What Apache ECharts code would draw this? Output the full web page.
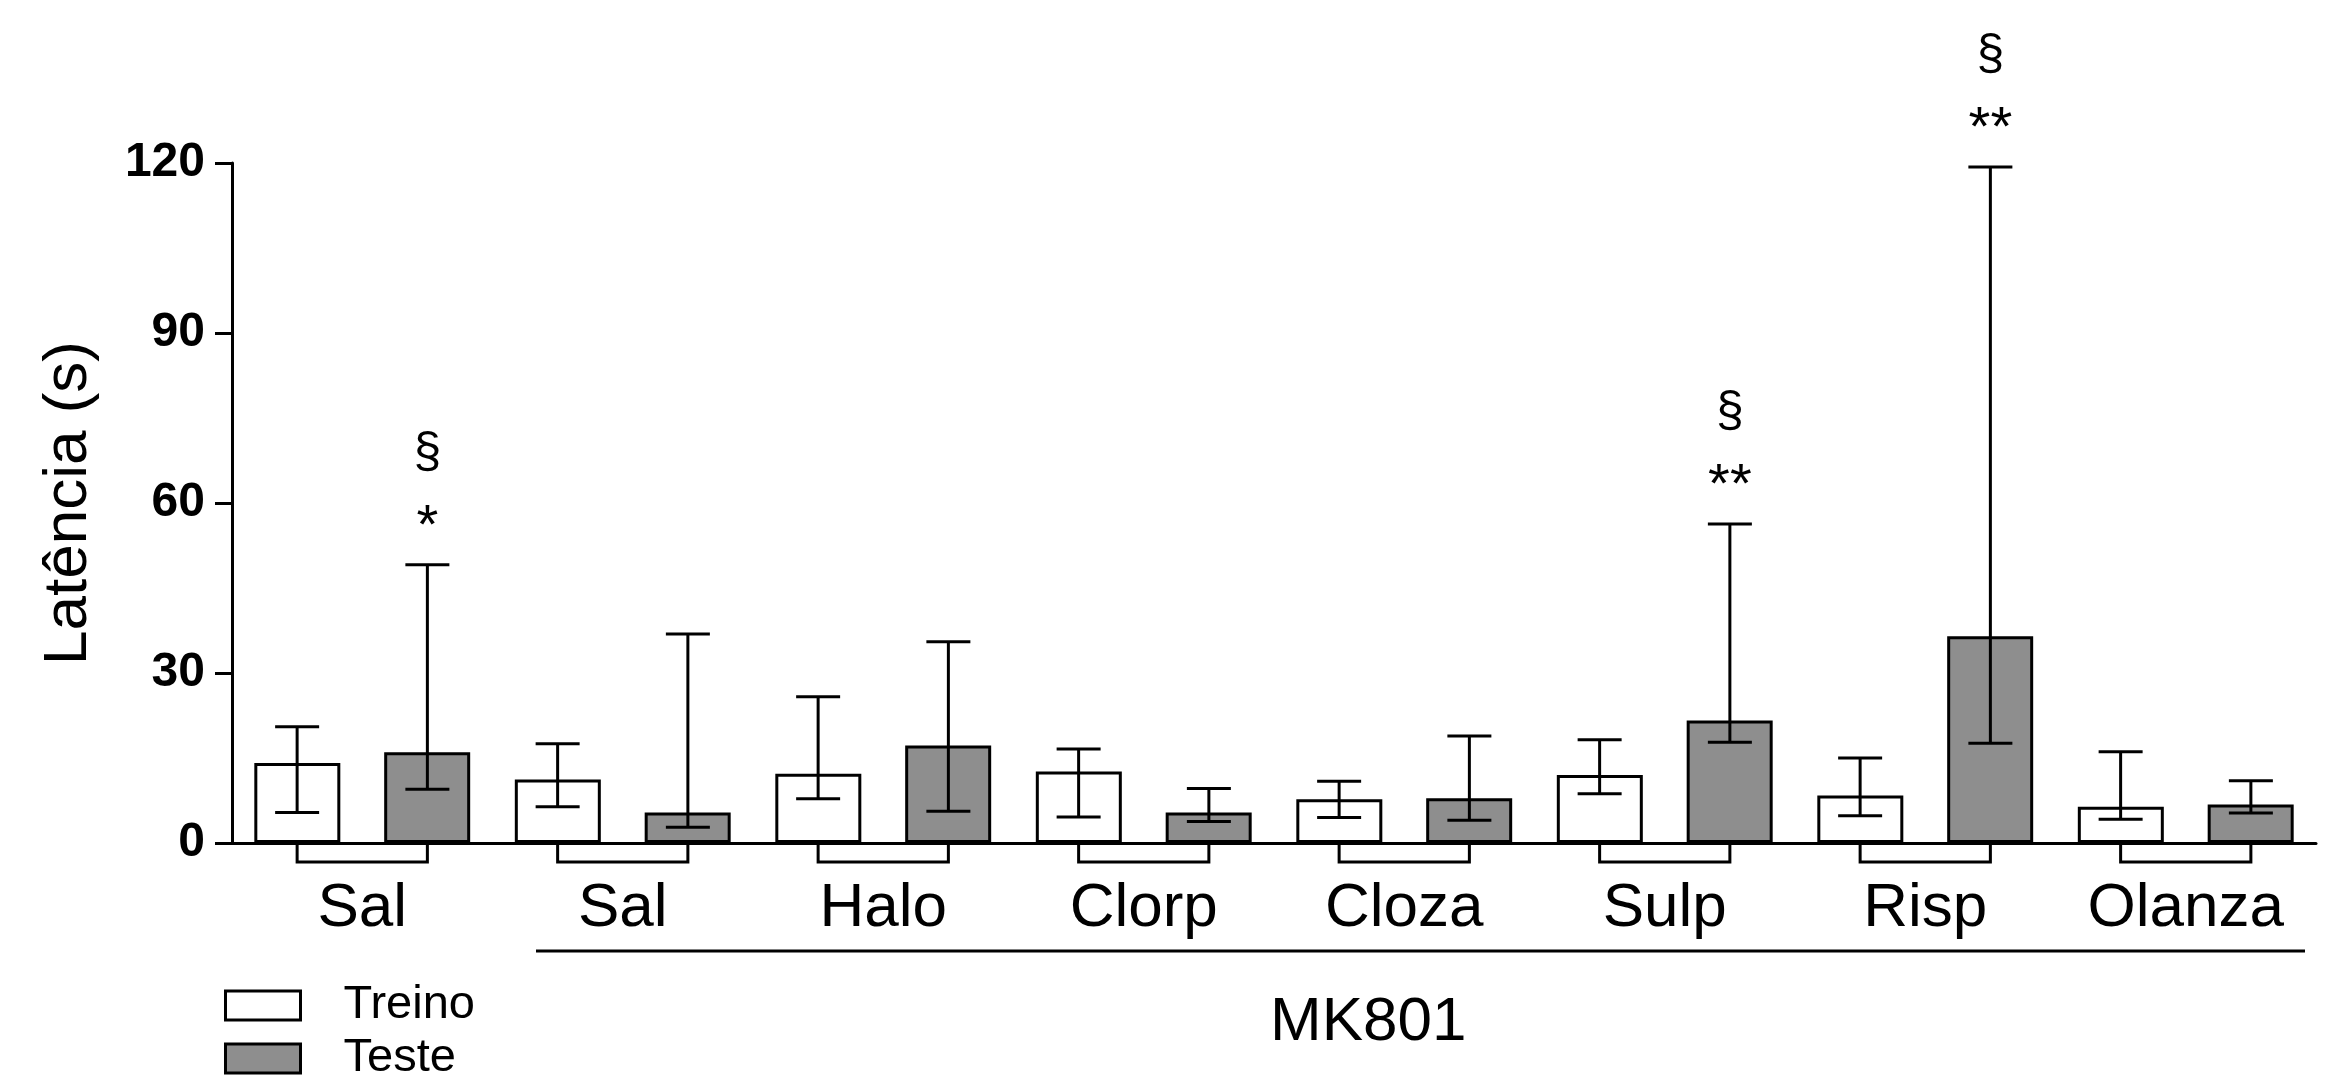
<!DOCTYPE html>
<html>
<head>
<meta charset="utf-8">
<script src="https://cdn.jsdelivr.net/npm/echarts@6/dist/echarts.min.js"></script>
<style>
html,body{margin:0;padding:0;background:#fff;}
#main{width:2351px;height:1084px;}
</style>
</head>
<body>
<div id="main"></div>
<script>
// grupos
var categories = ['Sal', 'Sal', 'Halo', 'Clorp', 'Cloza', 'Sulp', 'Risp', 'Olanza'];
// Treino: barra + limites da barra de erro
var treino     = [14.1, 11.2, 12.2, 12.6, 7.7, 12.0, 8.4, 6.4];
var treinoLow  = [5.4, 6.4, 7.8, 4.6, 4.5, 8.7, 4.8, 4.2];
var treinoHigh = [20.5, 17.5, 25.8, 16.6, 10.9, 18.2, 15.0, 16.1];
// Teste
var teste      = [16.0, 5.4, 17.2, 5.4, 7.9, 21.6, 36.5, 6.8];
var testeLow   = [9.5, 2.8, 5.6, 3.8, 4.0, 17.8, 17.6, 5.3];
var testeHigh  = [49.1, 36.9, 35.5, 9.6, 18.9, 56.3, 119.3, 11.0];
// marcas de significancia sobre Teste
var stars    = ['*', '', '', '', '', '**', '**', ''];
var sections = ['\u00a7', '', '', '', '', '\u00a7', '\u00a7', ''];
var yTicks = [0, 30, 60, 90, 120];

var FONT = '"Liberation Sans", Arial, sans-serif';

var errData = [];
for (var i = 0; i < categories.length; i++) {
	errData.push([i, treinoLow[i], treinoHigh[i], -1, '', '']);
	errData.push([i, testeLow[i], testeHigh[i], 1, stars[i], sections[i]]);
}
var groupIdx = categories.map(function (c, i) { return i; });

function renderErr(params, api) {
	var idx = api.value(0);
	var side = api.value(3);
	var band = api.size([1, 0])[0];
	var x = api.coord([idx, 0])[0] + side * band / 4;
	var yLow = api.coord([idx, api.value(1)])[1];
	var yHigh = api.coord([idx, api.value(2)])[1];
	var cap = 22;
	var st = {stroke: '#000', lineWidth: 3, fill: null};
	var kids = [
		{type: 'line', shape: {x1: x, y1: yLow, x2: x, y2: yHigh}, style: st},
		{type: 'line', shape: {x1: x - cap, y1: yLow, x2: x + cap, y2: yLow}, style: st},
		{type: 'line', shape: {x1: x - cap, y1: yHigh, x2: x + cap, y2: yHigh}, style: st}
	];
	var s1 = errData[params.dataIndex][4], s2 = errData[params.dataIndex][5];
	if (s1) {
		// asteriscos ficam altos na caixa do texto
		kids.push({type: 'text', style: {text: s1, x: x, y: yHigh - 37, align: 'center', verticalAlign: 'middle', font: '56px ' + FONT, fill: '#000'}});
	}
	if (s2) {
		kids.push({type: 'text', style: {text: s2, x: x, y: yHigh - 112, align: 'center', verticalAlign: 'middle', font: '50px ' + FONT, fill: '#000'}});
	}
	return {type: 'group', children: kids};
}

function renderBracket(params, api) {
	var idx = api.value(0);
	var band = api.size([1, 0])[0];
	var c = api.coord([idx, 0]);
	var x1 = c[0] - band / 4, x2 = c[0] + band / 4;
	var y0 = c[1], y1 = c[1] + 19;
	return {
		type: 'polyline',
		shape: {points: [[x1, y0], [x1, y1], [x2, y1], [x2, y0]]},
		style: {stroke: '#000', lineWidth: 3, fill: null}
	};
}

var chart = echarts.init(document.getElementById('main'));
var option = {
	backgroundColor: '#fff',
	animation: false,
	grid: {left: 232, right: 35, top: 163, bottom: 241, containLabel: false},
	legend: {
		data: ['Treino', 'Teste'],
		orient: 'vertical',
		left: 224,
		top: 982,
		height: 200,
		padding: 0,
		icon: 'rect',
		itemWidth: 75,
		itemHeight: 29,
		itemGap: 6,
		itemStyle: {borderColor: '#000', borderWidth: 3},
		textStyle: {fontFamily: FONT, fontSize: 47, color: '#000', lineHeight: 29, padding: [0, 0, 0, 38]},
		selectedMode: false
	},
	xAxis: {
		type: 'category',
		data: categories,
		axisLine: {lineStyle: {color: '#000', width: 3}},
		axisTick: {show: false},
		axisLabel: {fontFamily: FONT, fontSize: 62, color: '#000', margin: 35, interval: 0},
		splitLine: {show: false}
	},
	yAxis: {
		type: 'value',
		min: yTicks[0],
		max: yTicks[yTicks.length - 1],
		interval: 30,
		name: 'Latência (s)',
		nameLocation: 'middle',
		nameRotate: 90,
		nameGap: 132,
		nameTextStyle: {fontFamily: FONT, fontSize: 62, color: '#000'},
		axisLine: {show: true, lineStyle: {color: '#000', width: 3}},
		axisTick: {show: true, length: 17, lineStyle: {color: '#000', width: 3}},
		axisLabel: {fontFamily: FONT, fontSize: 48, fontWeight: 'bold', color: '#000', margin: 27},
		splitLine: {show: false}
	},
	series: [{
		name: 'Treino',
		type: 'bar',
		data: treino,
		barWidth: 86,
		barGap: '51%',
		itemStyle: {color: '#ffffff', borderColor: '#000', borderWidth: 3}
	}, {
		name: 'Teste',
		type: 'bar',
		data: teste,
		barWidth: 86,
		barGap: '51%',
		itemStyle: {color: '#8e8e8e', borderColor: '#000', borderWidth: 3}
	}, {
		name: 'erro',
		type: 'custom',
		renderItem: renderErr,
		data: errData,
		z: 5,
		silent: true
	}, {
		name: 'grupo',
		type: 'custom',
		renderItem: renderBracket,
		data: groupIdx,
		z: 5,
		silent: true
	}],
	graphic: [{
		type: 'line',
		shape: {x1: 536, y1: 951, x2: 2305, y2: 951},
		style: {stroke: '#000', lineWidth: 3}
	}, {
		type: 'text',
		left: 1270,
		top: 992,
		style: {text: 'MK801', font: '62px ' + FONT, fill: '#000'}
	}]
};
chart.setOption(option);
window.addEventListener('resize', function () {
	chart.resize();
});
</script>
</body>
</html>
